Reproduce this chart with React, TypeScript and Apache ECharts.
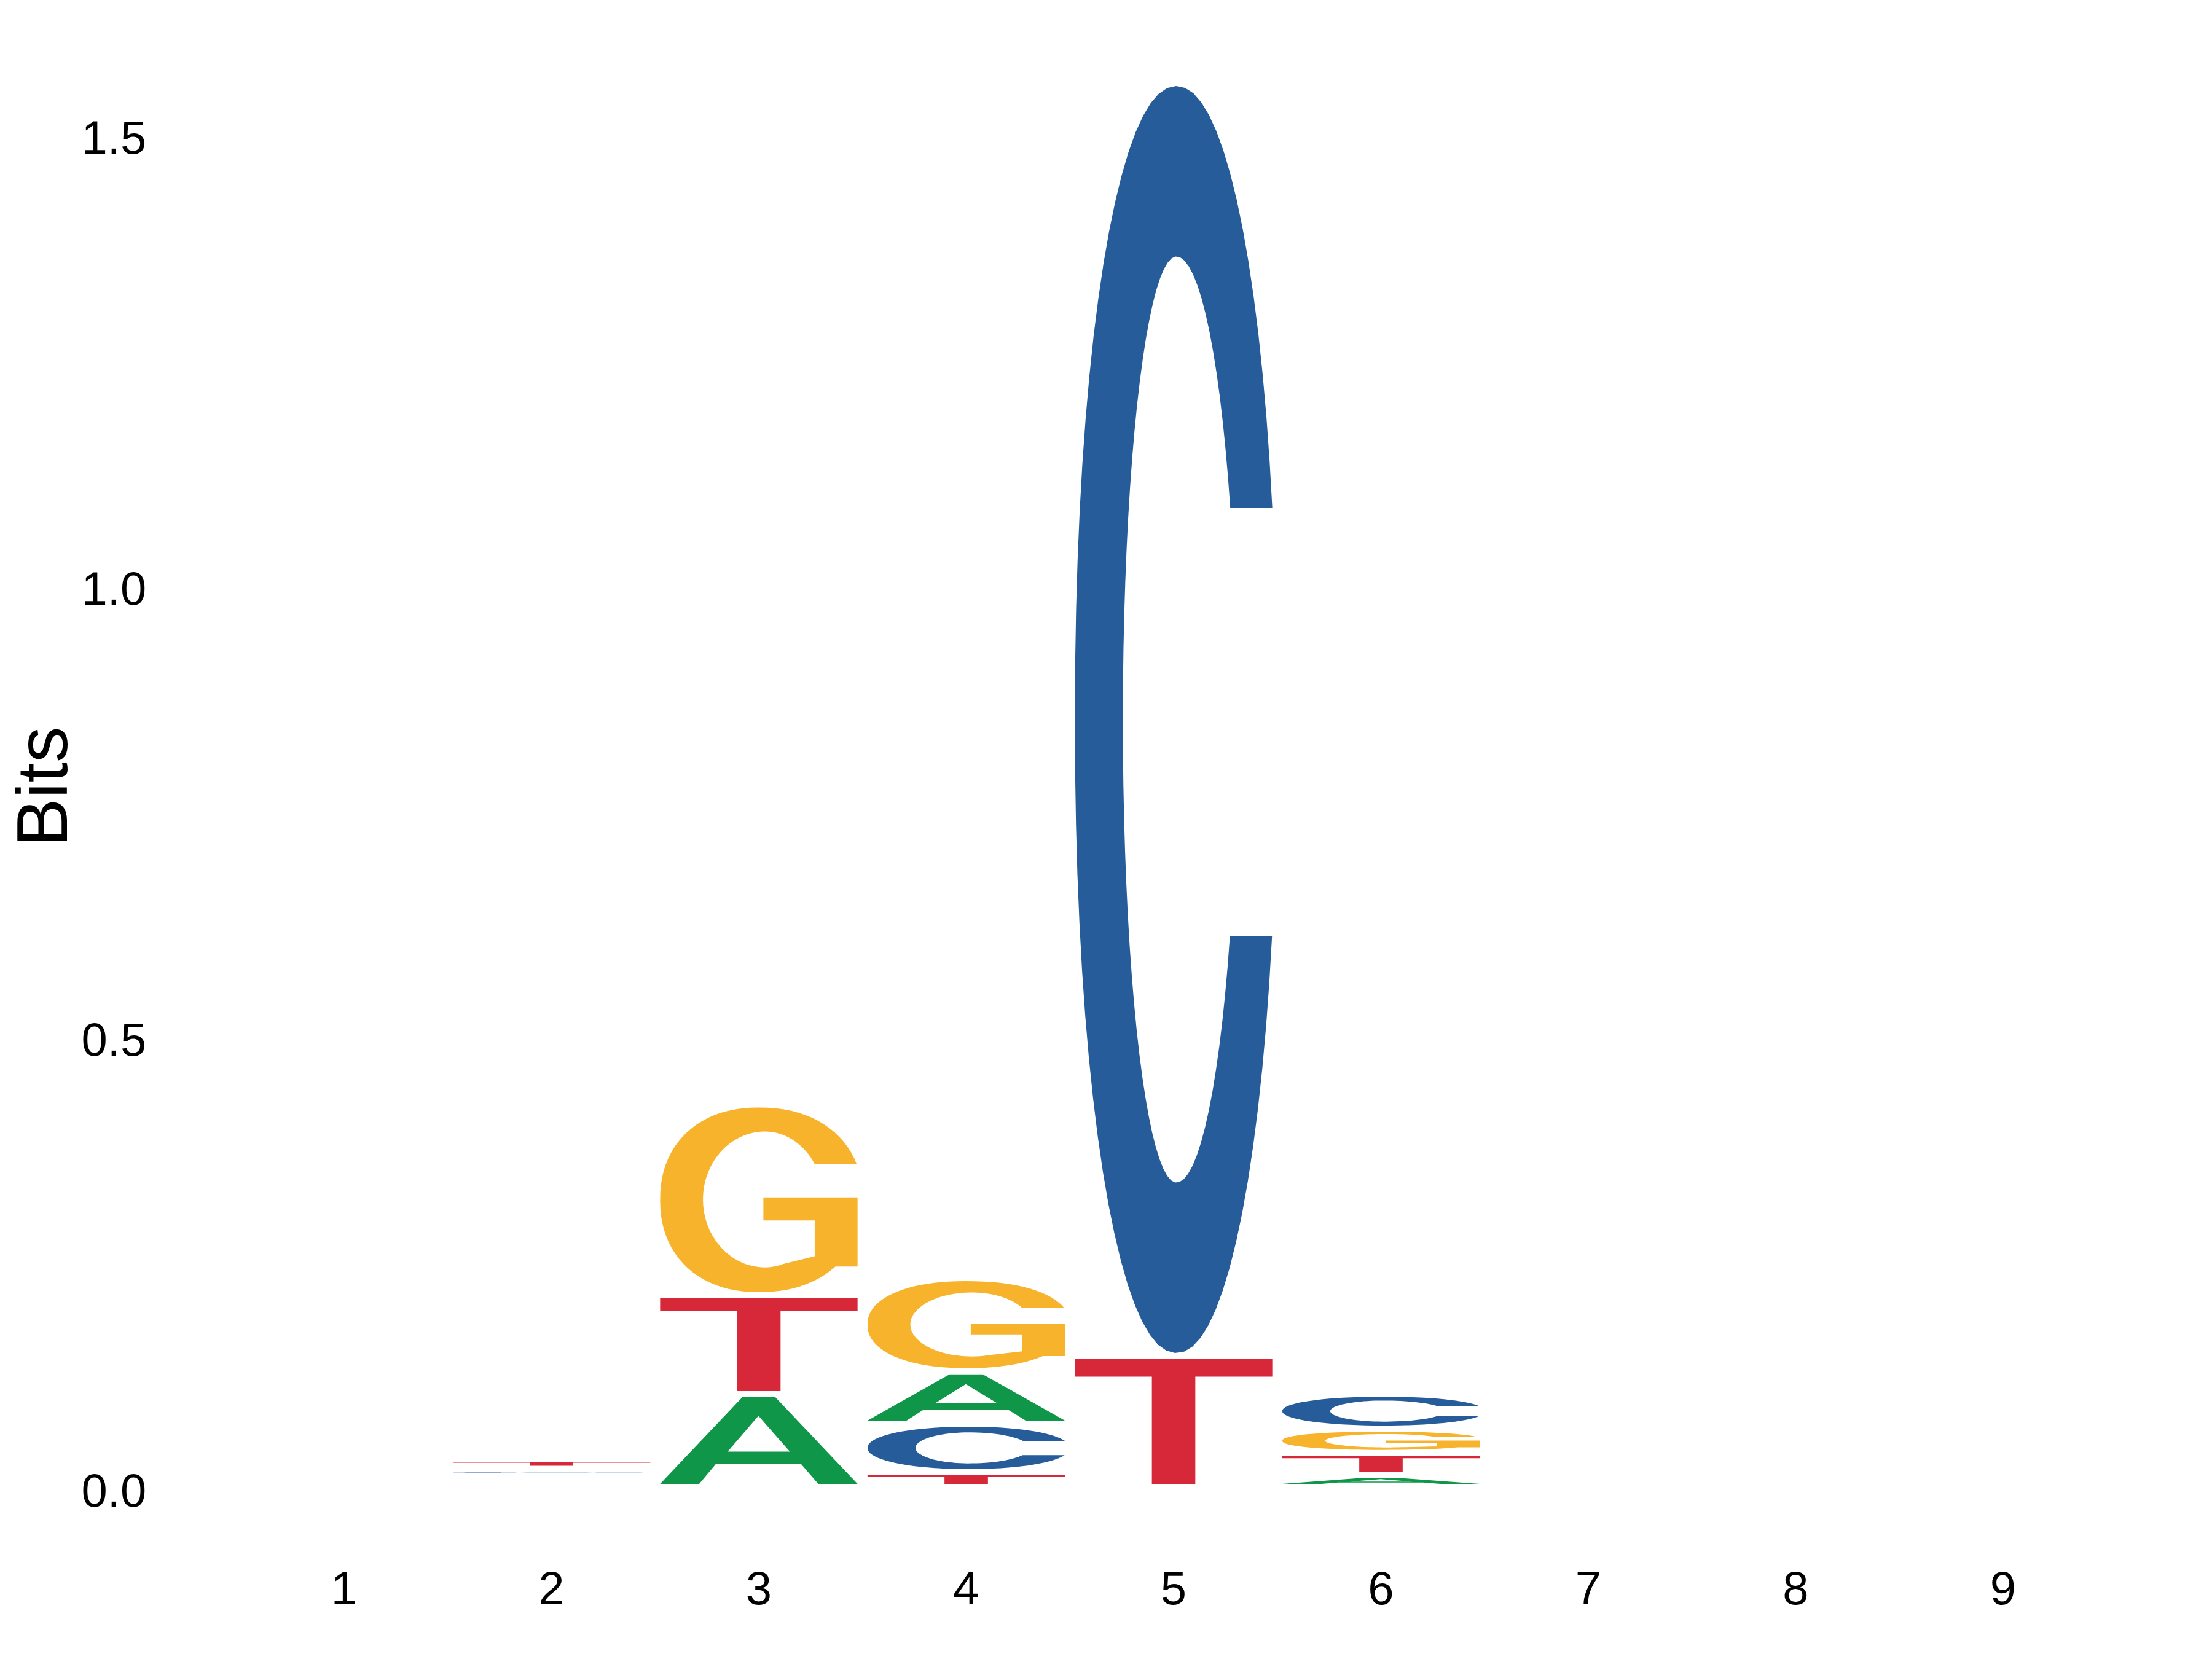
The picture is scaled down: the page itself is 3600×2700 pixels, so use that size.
import { useRef, useEffect } from "react";
import * as echarts from "echarts";

// sequence logo, information content per position (bits)
const POSITIONS = ["1", "2", "3", "4", "5", "6", "7", "8", "9"];
const LETTERS = ["A", "C", "G", "T"];
const BITS_A = [0, 0.007, 0.1028, 0.0581, 0, 0.0136, 0, 0, 0];
const BITS_C = [0, 0.0076, 0, 0.0538, 1.4114, 0.0388, 0, 0, 0];
const BITS_G = [0, 0.0055, 0.2115, 0.1033, 0, 0.027, 0, 0, 0];
const BITS_T = [0, 0.0107, 0.1098, 0.0164, 0.1451, 0.0241, 0, 0, 0];
const Y_TICKS = [0, 0.5, 1.0, 1.5];

const COLORS: Record<string, string> = {
  A: "#109648",
  C: "#255C99",
  G: "#F7B32B",
  T: "#D62839",
};

const FONT = '"Liberation Sans", Arial, Helvetica, sans-serif';

// --- glyph outlines, drawn in a 100 x 100 box (y down) ---
const pt = (x: number, y: number) => `${x.toFixed(2)} ${y.toFixed(2)}`;

function superArc(
  cx: number,
  cy: number,
  rxL: number,
  rxR: number,
  ry: number,
  n: number,
  d0: number,
  d1: number,
  steps = 72
): string[] {
  const out: string[] = [];
  const p = 2 / n;
  for (let i = 0; i <= steps; i++) {
    const t = ((d0 + ((d1 - d0) * i) / steps) * Math.PI) / 180;
    const c = Math.cos(t);
    const s = Math.sin(t);
    const x = cx + (c >= 0 ? rxR : rxL) * Math.sign(c) * Math.abs(c) ** p;
    const y = cy - ry * Math.sign(s) * Math.abs(s) ** p;
    out.push(pt(x, y));
  }
  return out;
}

function angleAtY(cy: number, ry: number, n: number, y: number) {
  const s = (cy - y) / ry;
  return (Math.asin(Math.sign(s) * Math.abs(s) ** (n / 2)) * 180) / Math.PI;
}

function buildC() {
  const n = 2.1;
  const yU = 33.3;
  const yL = 67.1;
  const tU = angleAtY(50, 50, n, yU);
  const tL = angleAtY(50, 50, n, yL);
  const rxR = (100 - 51.4) / Math.abs(Math.cos((tU * Math.PI) / 180)) ** (2 / n);
  const outer = superArc(51.4, 50, 51.4, rxR, 50, n, tU, 360 + tL);
  const tiU = angleAtY(50, 36.55, 2, yU);
  const tiL = angleAtY(50, 36.55, 2, yL);
  const inner = superArc(51.4, 50, 27.1, 30.7, 36.55, 2, tiL, tiU - 360);
  return "M" + outer.join(" L") + " L" + inner.join(" L") + " Z";
}

function buildG() {
  const n = 2.2;
  const yU = 30.7;
  const yL = 86.1;
  const tU = angleAtY(50, 50, n, yU);
  const tL = angleAtY(50, 50, n, yL);
  const rxR = (99.6 - 50) / Math.abs(Math.cos((tU * Math.PI) / 180)) ** (2 / n);
  const outer = superArc(50, 50, 50, rxR, 50, n, tU, 360 + tL);
  const tiU = angleAtY(49.8, 36.8, 2, yU);
  const inner = superArc(53, 49.8, 31.3, 29.6, 36.8, 2, -72, tiU - 360);
  return (
    "M" +
    outer.join(" L") +
    " L100 86.1 L100 48.7 L52.3 48.7 L52.3 61.2 L78.3 61.2 L78.3 80.6 L" +
    inner.join(" L") +
    " Z"
  );
}

const GLYPHS: Record<string, string> = {
  A: "M0 100 L41.6 0 L58.4 0 L100 100 L80.1 100 L71.2 76.5 L28.4 76.5 L19.8 100 Z M49.8 21.4 L34.2 62.7 L65.7 62.7 Z",
  C: buildC(),
  G: buildG(),
  T: "M0 0 L100 0 L100 14 L61 14 L61 100 L39 100 L39 14 L0 14 Z",
};

const HEIGHTS: Record<string, number[]> = {
  A: BITS_A,
  C: BITS_C,
  G: BITS_G,
  T: BITS_T,
};

export default function App() {
  const chartRef = useRef<HTMLDivElement>(null);

  useEffect(() => {
    if (!chartRef.current) return;
    const chart = echarts.init(chartRef.current, null, { renderer: "svg" });

    // stack letters per position, smallest at the bottom
    const stackData: number[][] = [];
    POSITIONS.forEach((_, i) => {
      const col = LETTERS.map((l) => ({ l, h: HEIGHTS[l][i] }))
        .filter((d) => d.h > 0)
        .sort((a, b) => a.h - b.h);
      let base = 0;
      col.forEach((d) => {
        stackData.push([i, base, d.h, LETTERS.indexOf(d.l)]);
        base += d.h;
      });
    });

    const PAD = 10; // gap under each letter, px
    const WIDTH_FRAC = 0.952;

    const option: any = {
      animation: false,
      backgroundColor: "#ffffff",
      textStyle: { fontFamily: FONT },
      grid: { left: 391.25, right: 171.25, top: 76.2, bottom: 275 },
      xAxis: {
        type: "category",
        data: POSITIONS,
        boundaryGap: true,
        axisLine: { show: false },
        axisTick: { show: false },
        splitLine: { show: false },
        axisLabel: {
          fontSize: 76,
          fontFamily: FONT,
          color: "#000000",
          margin: 121,
        },
      },
      yAxis: {
        type: "value",
        min: 0,
        max: 1.6,
        interval: 0.5,
        axisLine: { show: false },
        axisTick: { show: false },
        splitLine: { show: false },
        axisLabel: {
          fontSize: 76,
          fontFamily: FONT,
          color: "#000000",
          margin: 153,
          showMaxLabel: false,
          formatter: (v: number) =>
            Y_TICKS.some((t) => Math.abs(t - v) < 1e-9) ? v.toFixed(1) : "",
        },
      },
      graphic: [
        {
          type: "text",
          x: 68,
          y: 1280,
          rotation: Math.PI / 2,
          style: {
            text: "Bits",
            font: `117px ${FONT}`,
            fill: "#000000",
            textAlign: "center",
            textVerticalAlign: "middle",
            align: "center",
            verticalAlign: "middle",
          },
        },
      ],
      series: [
        {
          type: "custom",
          data: stackData,
          encode: { x: 0, y: 1 },
          renderItem: (params: any, api: any) => {
            const idx = api.value(0);
            const base = api.value(1);
            const h = api.value(2);
            const letter = LETTERS[api.value(3)];
            const p0 = api.coord([idx, base]);
            const p1 = api.coord([idx, base + h]);
            const bw = api.size([1, 0])[0] * WIDTH_FRAC;
            const yBottom = p0[1] - PAD;
            const yTop = p1[1];
            const gh = yBottom - yTop;
            if (gh < 0.8) return null;
            return {
              type: "path",
              shape: {
                pathData: GLYPHS[letter],
                x: p0[0] - bw / 2,
                y: yTop,
                width: bw,
                height: gh,
                layout: "cover",
              },
              style: { fill: COLORS[letter] },
            };
          },
        },
      ],
    };

    chart.setOption(option);

    return () => {
      chart.dispose();
    };
  }, []);

  return (
    <div
      ref={chartRef}
      style={{
        position: "fixed",
        left: 0,
        top: 0,
        width: "3600px",
        height: "2700px",
        background: "#fff",
      }}
    />
  );
}
